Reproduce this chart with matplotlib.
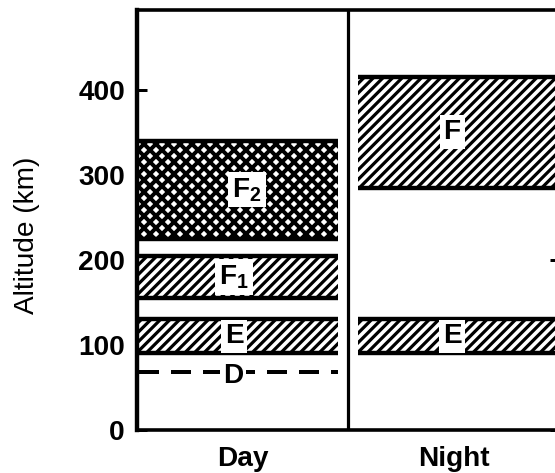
import numpy as np
import matplotlib
matplotlib.use('Agg')
import matplotlib.pyplot as plt

plt.rcParams['font.family'] = ['Liberation Sans', 'DejaVu Sans']
plt.rcParams['mathtext.fontset'] = 'custom'
plt.rcParams['mathtext.rm'] = 'Liberation Sans:bold'
plt.rcParams['mathtext.default'] = 'rm'

# ionospheric layers, altitudes in km
day_names = ['E', 'F$_1$', 'F$_2$']
day_bottom = [90, 155, 225]
day_top = [130, 205, 340]
day_hatch = ['/////', '/////', 'xxxx']

night_names = ['E', 'F']
night_bottom = [90, 285]
night_top = [130, 415]
night_hatch = ['/////', '/////']

d_name = 'D'
d_alt = 68

panels = ['Day', 'Night']
yticks = [0, 100, 200, 300, 400]

dpi = 144
fig = plt.figure(figsize=(555 / dpi, 473 / dpi), dpi=dpi)
ax = fig.add_axes([0.2468, 0.0909, 0.762, 0.888])


def draw_band(x0, x1, lo, hi, hatch, name, xt):
    lw = 2.0 if 'x' in hatch else 1.6
    with plt.rc_context({'hatch.linewidth': lw}):
        ax.bar(x0, hi - lo, bottom=lo, width=x1 - x0, align='edge',
               color='white', edgecolor='black', linewidth=0, hatch=hatch, zorder=2)
    ax.hlines([lo, hi], x0, x1, colors='black', linewidth=2.2, zorder=3)
    ax.text(xt, (lo + hi) / 2, name, ha='center', va='center', fontsize=14,
            fontweight='bold', zorder=4,
            bbox=dict(facecolor='white', edgecolor='none', pad=2))


for name, lo, hi, h in zip(day_names, day_bottom, day_top, day_hatch):
    xt = 0.52 if 'F$_2' in name else 0.46
    draw_band(0, 0.953, lo, hi, h, name, xt)

for name, lo, hi, h in zip(night_names, night_bottom, night_top, night_hatch):
    draw_band(1.047, 2.0, lo, hi, h, name, 1.49)

# D region
ax.plot([0.01, 0.953], [d_alt, d_alt], color='black', linewidth=2,
        linestyle=(0, (5, 3)), zorder=3)
ax.text(0.455, d_alt - 4, d_name, ha='center', va='center', fontsize=14,
        fontweight='bold', zorder=4,
        bbox=dict(facecolor='white', edgecolor='none', pad=1.5))

ax.axvline(1.0, color='black', linewidth=1.6, zorder=5)

ax.set_xlim(0, 2)
ax.set_ylim(0, 494)
ax.set_yticks(yticks)
ax.set_yticklabels([str(t) for t in yticks], fontsize=14, fontweight='bold')
ax.set_xticks([0.5, 1.5])
ax.set_xticklabels(panels, fontsize=14, fontweight='bold')
ax.tick_params(axis='x', length=0, pad=8)
ax.tick_params(axis='y', direction='in', length=5, width=1.5, pad=6,
               left=True, right=True)
ax.set_ylabel('Altitude (km)', fontsize=14)
ax.yaxis.set_label_coords(-0.229, 0.464)

for s in ax.spines.values():
    s.set_linewidth(1.8)
ax.spines['left'].set_linewidth(2.2)

fig.savefig('out.png', dpi=dpi)
